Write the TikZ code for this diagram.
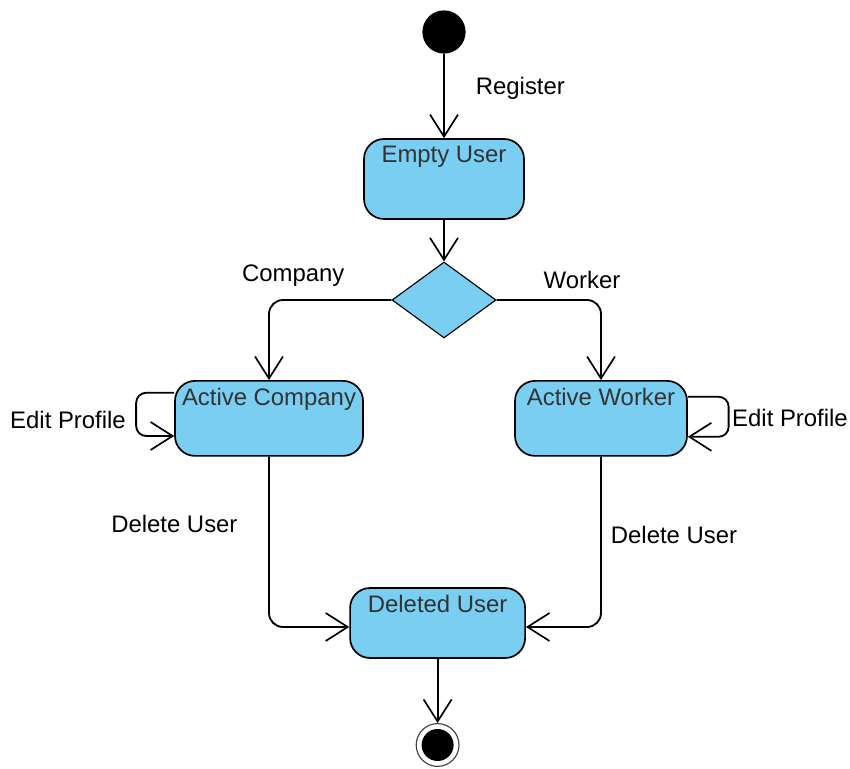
\documentclass[tikz,border=0pt]{standalone}
\usepackage{fontspec}
\setmainfont{Liberation Sans}
\usetikzlibrary{shapes.geometric,arrows.meta}
\definecolor{stfill}{HTML}{79CEF2}
\definecolor{sttext}{HTML}{333333}

\begin{document}
\begin{tikzpicture}[
  font=\fontsize{17}{20}\selectfont,
  state/.style={draw, line width=1.2pt, fill=stfill, rounded corners=0.5cm},
  decision/.style={diamond, draw, line width=0.8pt, fill=stfill, minimum width=2.6cm, minimum height=1.9cm, inner sep=0pt},
  flow/.style={line width=1.3pt, -{Straight Barb[length=0.55cm,width=0.7cm,line width=1.2pt]}},
  title/.style={sttext, anchor=north, inner sep=0pt, yshift=-0.2cm}
]
\useasboundingbox (0,0) rectangle (21.25,19.2);

% start and first state
\node[circle, fill=black, minimum size=1.08cm, inner sep=0pt] (start) at (11.1,18.4) {};
\node[state, minimum width=4cm, minimum height=2cm, label={[title]north:Empty User}] (empty) at (11.1,14.725) {};
\draw[flow] (start) -- (empty);
\node (reg) at (13.01,17.0) {Register};

% choice
\node[decision] (dec) at (11.1,11.7) {};
\draw[flow] (empty) -- (dec);
\node (lcomp) at (7.33,12.3) {Company};
\node (lwork) at (14.55,12.2) {Worker};

% active states
\node[state, minimum width=4.7cm, minimum height=1.875cm, label={[title]north:Active Company}] (actco) at (6.725,8.74) {};
\node[state, minimum width=4.3cm, minimum height=1.875cm, label={[title]north:Active Worker}] (actwk) at (15.025,8.74) {};
\draw[flow, rounded corners=0.35cm] (dec.west) -| (actco.north);
\draw[flow, rounded corners=0.35cm] (dec.east) -| (actwk.north);

% edit profile loops
\draw[flow, rounded corners=0.25cm] ([yshift=0.64cm]actco.west) -- ++(-0.95,0) |- ([yshift=-0.44cm]actco.west);
\node (editl) at (1.7,8.7) {Edit Profile};
\draw[flow, rounded corners=0.25cm] ([yshift=0.54cm]actwk.east) -- ++(1.02,0) |- ([yshift=-0.46cm]actwk.east);
\node (editr) at (19.75,8.75) {Edit Profile};

% deleted
\node[state, minimum width=4.375cm, minimum height=1.75cm, label={[title]north:Deleted User}] (del) at (10.94,3.625) {};
\draw[flow, rounded corners=0.35cm] (actco.south) |- ([yshift=-0.1cm]del.west);
\draw[flow, rounded corners=0.35cm] (actwk.south) |- ([yshift=-0.1cm]del.east);
\node (dell) at (4.36,6.1) {Delete User};
\node (delr) at (16.85,5.825) {Delete User};

% final state
\node[circle, draw=black!75, line width=0.8pt, fill=white, minimum size=1.07cm, inner sep=0pt] (stop) at (10.94,0.575) {};
\fill[black] (stop.center) circle (0.4cm);
\draw[flow] (del.south) -- (stop.north);
\end{tikzpicture}
\end{document}
